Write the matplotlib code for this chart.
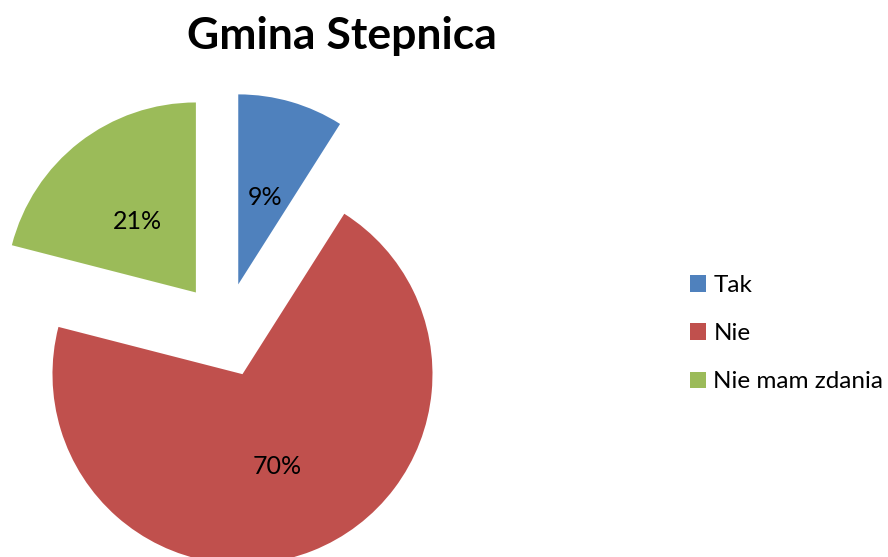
import matplotlib
matplotlib.use("Agg")
import matplotlib.pyplot as plt

plt.rcParams['font.family'] = ['Lato', 'DejaVu Sans']

title = "Gmina Stepnica"
categories = ["Tak", "Nie", "Nie mam zdania"]
values = [9, 70, 21]
colors = ["#4F81BD", "#C0504D", "#9BBB59"]

W, H = 888, 557
fig = plt.figure(figsize=(W / 100, H / 100), dpi=100)
ax = fig.add_axes([0, 0, 1, 1])
ax.axis('off')

R = 190.0  # px radius
cx, cy = 225.0, 330.0
wedges, texts, autotexts = ax.pie(
    values, colors=colors, startangle=90, counterclock=False,
    explode=[0.25] * len(values), radius=1,
    autopct=lambda p: f"{p:.0f}%", pctdistance=0.5,
    wedgeprops=dict(linewidth=0),
    textprops=dict(fontsize=18, color='black'))
ax.set_aspect('auto')
ax.set_xlim(-cx / R, (W - cx) / R)
ax.set_ylim(-(H - cy) / R, cy / R)
for t in autotexts:
    x, y = t.get_position()
    t.set_position((x, y - 4 / R))

fig.text(342 / W, 1 - 36 / H, title, ha='center', va='center',
         fontsize=32, fontweight='bold')

leg = fig.legend(wedges, categories, loc='upper left',
                 bbox_to_anchor=(690 / W, 1 - 275 / H), frameon=False,
                 fontsize=17.5, handlelength=0.66, handleheight=0.66,
                 handletextpad=0.3, labelspacing=1.12, borderpad=0,
                 borderaxespad=0)

fig.savefig("out.png", dpi=100)
